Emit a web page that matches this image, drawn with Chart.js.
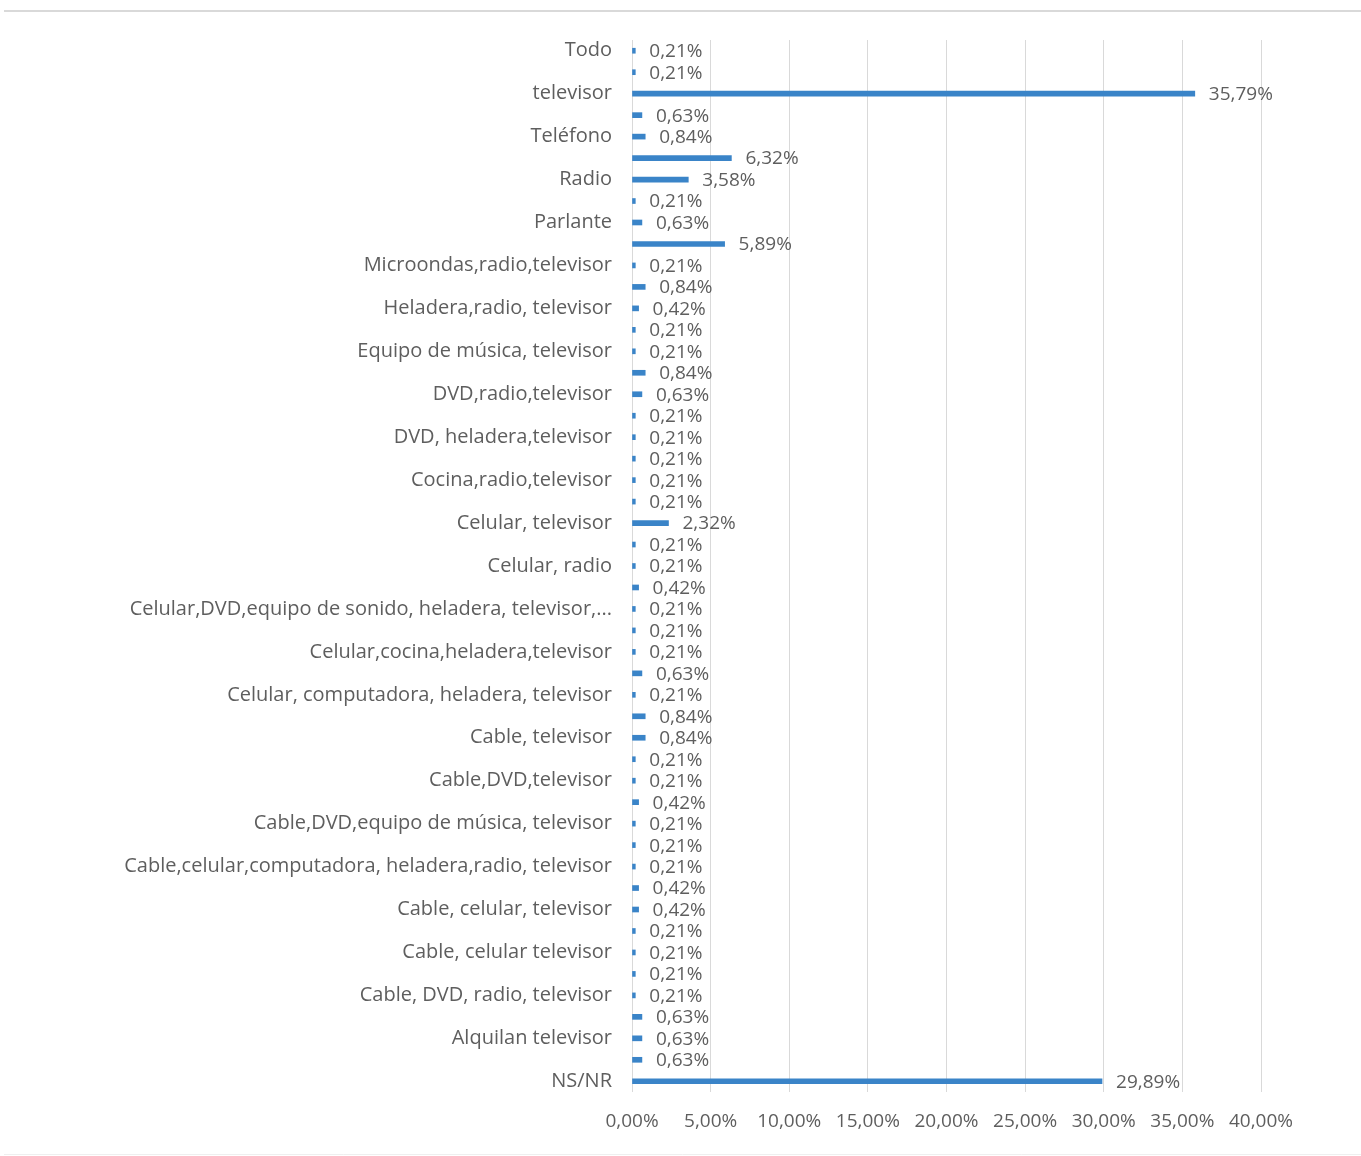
<!DOCTYPE html>
<html>
<head>
<meta charset="utf-8">
<script src="https://cdn.jsdelivr.net/npm/chart.js@4.4.0/dist/chart.umd.min.js"></script>
<style>
  html, body { margin: 0; padding: 0; background: #fff; }
  #wrap { width: 1361px; height: 1156px; position: relative; }
</style>
</head>
<body>
<div id="wrap"><canvas id="graph"></canvas></div>
<script>
// categorías (las vacías no llevan rótulo visible en el original)
const categorias = [
  'Todo', '', 'televisor', '', 'Teléfono', '', 'Radio', '', 'Parlante', '',
  'Microondas,radio,televisor', '', 'Heladera,radio, televisor', '',
  'Equipo de música, televisor', '', 'DVD,radio,televisor', '',
  'DVD, heladera,televisor', '', 'Cocina,radio,televisor', '',
  'Celular, televisor', '', 'Celular, radio', '',
  'Celular,DVD,equipo de sonido, heladera, televisor,...', '',
  'Celular,cocina,heladera,televisor', '',
  'Celular, computadora, heladera, televisor', '',
  'Cable, televisor', '', 'Cable,DVD,televisor', '',
  'Cable,DVD,equipo de música, televisor', '',
  'Cable,celular,computadora, heladera,radio, televisor', '',
  'Cable, celular, televisor', '', 'Cable, celular televisor', '',
  'Cable, DVD, radio, televisor', '', 'Alquilan televisor', '', 'NS/NR'
];

// porcentajes
const porcentajes = [
  0.21, 0.21, 35.79, 0.63, 0.84, 6.32, 3.58, 0.21, 0.63, 5.89,
  0.21, 0.84, 0.42, 0.21, 0.21, 0.84, 0.63, 0.21, 0.21, 0.21,
  0.21, 0.21, 2.32, 0.21, 0.21, 0.42, 0.21, 0.21, 0.21, 0.63,
  0.21, 0.84, 0.84, 0.21, 0.21, 0.42, 0.21, 0.21, 0.21, 0.42,
  0.42, 0.21, 0.21, 0.21, 0.21, 0.63, 0.63, 0.63, 29.89
];

// eje x
const ejeMin = 0;
const ejeMax = 40;
const ejePaso = 5;

const fmt = v => v.toFixed(2).replace('.', ',') + '%';

// rótulos de datos al final de cada barra
const etiquetas = {
  id: 'etiquetas',
  afterDatasetsDraw(chart) {
    const ctx = chart.ctx;
    const meta = chart.getDatasetMeta(0);
    ctx.save();
    ctx.font = '19px "Open Sans"';
    ctx.fillStyle = '#5e5e5e';
    ctx.textAlign = 'left';
    ctx.textBaseline = 'middle';
    meta.data.forEach((bar, i) => {
      ctx.fillText(fmt(porcentajes[i]), bar.x + 14, bar.y + 1);
    });
    ctx.restore();
  }
};

// marco: líneas grises arriba y abajo
const marco = {
  id: 'marco',
  beforeDraw(chart) {
    const ctx = chart.ctx;
    ctx.save();
    ctx.fillStyle = '#ffffff';
    ctx.fillRect(0, 0, chart.width, chart.height);
    ctx.strokeStyle = '#d9d9d9';
    ctx.lineWidth = 2;
    ctx.beginPath();
    ctx.moveTo(4, 11);
    ctx.lineTo(chart.width, 11);
    ctx.stroke();
    ctx.strokeStyle = '#efefef';
    ctx.lineWidth = 1;
    ctx.beginPath();
    ctx.moveTo(4, 1154.5);
    ctx.lineTo(chart.width, 1154.5);
    ctx.stroke();
    ctx.restore();
  }
};

const ctx = document.getElementById('graph').getContext('2d');

var myChart = new Chart(ctx, {
  type: 'bar',
  data: {
    labels: categorias,
    datasets: [{
      data: porcentajes,
      backgroundColor: '#3A84C8',
      borderWidth: 0,
      barThickness: 5
    }]
  },
  options: {
    indexAxis: 'y',
    responsive: true,
    maintainAspectRatio: false,
    animation: false,
    layout: { padding: { top: 40, right: 100, bottom: 0, left: 0 } },
    plugins: {
      legend: { display: false },
      tooltip: { enabled: false }
    },
    scales: {
      x: {
        min: ejeMin,
        max: ejeMax,
        afterFit: s => { s.height = 64; },
        ticks: {
          stepSize: ejePaso,
          padding: 18,
          color: '#5e5e5e',
          font: { family: '"Open Sans"', size: 19 },
          callback: v => fmt(v)
        },
        grid: { color: '#d9d9d9', drawTicks: false },
        border: { display: false }
      },
      y: {
        afterFit: s => { s.width = 632; },
        ticks: {
          autoSkip: false,
          padding: 20,
          color: '#5e5e5e',
          font: { family: '"Open Sans"', size: 20 }
        },
        grid: { display: false, drawTicks: false },
        border: { display: false }
      }
    }
  },
  plugins: [marco, etiquetas]
});
</script>
</body>
</html>
